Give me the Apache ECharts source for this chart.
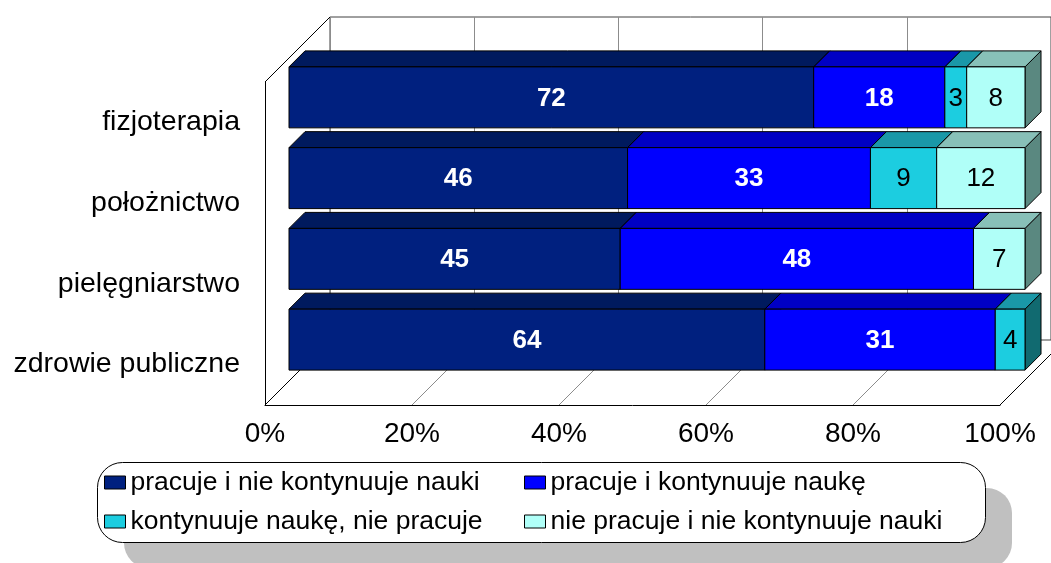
<!DOCTYPE html>
<html>
<head>
<meta charset="utf-8">
<script src="https://cdn.jsdelivr.net/npm/echarts@6/dist/echarts.min.js"></script>
<style>
  html, body { margin: 0; padding: 0; background: #fff; }
  #chart { width: 1051px; height: 563px; }
</style>
</head>
<body>
<div id="chart"></div>
<script>
var categories = ['fizjoterapia', 'położnictwo', 'pielęgniarstwo', 'zdrowie publiczne'];
var seriesNames = [
  'pracuje i nie kontynuuje nauki',
  'pracuje i kontynuuje naukę',
  'kontynuuje naukę, nie pracuje',
  'nie pracuje i nie kontynuuje nauki'
];
var workNoStudy = [72, 46, 45, 64];
var workStudy = [18, 33, 48, 31];
var studyNoWork = [3, 9, 0, 4];
var neither = [8, 12, 7, 0];
var xTicks = [0, 20, 40, 60, 80, 100];

(function() {
  var FONT = '"Liberation Sans", Arial, sans-serif';
  var WALL_DEPTH = 65;   // front plane -> back wall
  var BAR_DEPTH = 16;    // thickness of the bars
  var faceColors = ['#00207f', '#0000ff', '#1ccde0', '#b0fff8'];
  var topColors = ['#001a5e', '#0000c4', '#1a98a8', '#88c0b8'];
  var sideColors = ['#00123f', '#00008a', '#116a70', '#5a8880'];
  var labelColors = ['#fff', '#fff', '#000', '#000'];
  var labelWeights = ['bold', 'bold', 'normal', 'normal'];

  var allSeries = [workNoStudy, workStudy, studyNoWork, neither];

  // 100% stacking: start/end of every segment as a share of the row total
  var totals = categories.map(function(c, i) {
    return allSeries.reduce(function(s, arr) { return s + arr[i]; }, 0);
  });
  var stacked = allSeries.map(function() { return []; });
  categories.forEach(function(c, i) {
    var cum = 0;
    allSeries.forEach(function(arr, k) {
      var v = arr[i];
      var start = cum / totals[i] * 100;
      cum += v;
      var end = cum / totals[i] * 100;
      if (v > 0) stacked[k].push([start, end, i, v]);
    });
  });

  function makeBarRenderer(k) {
    return function(params, api) {
      var cat = api.value(2);
      var p0 = api.coord([api.value(0), cat]);
      var p1 = api.coord([api.value(1), cat]);
      var h = api.size([0, 1])[1] * 0.755;
      var x0 = p0[0], x1 = p1[0];
      var yT = p0[1] - h / 2, yB = p0[1] + h / 2;
      var d = BAR_DEPTH;
      return {
        type: 'group',
        children: [
          {
            type: 'polygon',
            shape: { points: [[x1, yT], [x1 + d, yT - d], [x1 + d, yB - d], [x1, yB]] },
            style: { fill: sideColors[k], stroke: '#000', lineWidth: 1 }
          },
          {
            type: 'polygon',
            shape: { points: [[x0, yT], [x1, yT], [x1 + d, yT - d], [x0 + d, yT - d]] },
            style: { fill: topColors[k], stroke: '#000', lineWidth: 1 }
          },
          {
            type: 'rect',
            shape: { x: x0, y: yT, width: x1 - x0, height: yB - yT },
            style: { fill: faceColors[k], stroke: '#000', lineWidth: 1 }
          },
          {
            type: 'text',
            style: {
              text: String(api.value(3)),
              x: (x0 + x1) / 2,
              y: (yT + yB) / 2 + 1,
              align: 'center',
              verticalAlign: 'middle',
              fill: labelColors[k],
              fontSize: 26,
              fontWeight: labelWeights[k],
              fontFamily: FONT
            }
          }
        ]
      };
    };
  }

  function renderFloor(params, api) {
    var v = api.value(0);
    var x = api.coord([v, 0])[0];
    var cs = params.coordSys;
    var yb = cs.y + cs.height;
    var edge = (v === xTicks[0] || v === xTicks[xTicks.length - 1]);
    var kids = [{
      type: 'line',
      shape: { x1: x, y1: yb, x2: x + WALL_DEPTH, y2: yb - WALL_DEPTH },
      style: { stroke: edge ? '#000' : '#8c8c8c', lineWidth: 1 }
    }];
    if (v === xTicks[0]) {
      kids.push({
        type: 'line',
        shape: { x1: x, y1: cs.y, x2: x + WALL_DEPTH, y2: cs.y - WALL_DEPTH },
        style: { stroke: '#000', lineWidth: 1 }
      });
    }
    return { type: 'group', children: kids };
  }

  var series = [{
    type: 'custom',
    name: 'floor',
    xAxisIndex: 0,
    yAxisIndex: 0,
    z: 1,
    silent: true,
    renderItem: renderFloor,
    encode: { x: 0, y: 1 },
    data: xTicks.map(function(v) { return [v, 0]; })
  }];

  seriesNames.forEach(function(name, k) {
    series.push({
      type: 'custom',
      name: name,
      xAxisIndex: 2,
      yAxisIndex: 2,
      z: 3,
      itemStyle: { color: faceColors[k], borderColor: '#000', borderWidth: 1 },
      renderItem: makeBarRenderer(k),
      encode: { x: [0, 1], y: 2 },
      data: stacked[k]
    });
  });

  var legendPos = [[104, 469], [524, 469], [104, 508], [524, 508]];
  var legends = seriesNames.map(function(name, k) {
    return {
      data: [name],
      left: legendPos[k][0],
      top: legendPos[k][1],
      padding: 0,
      icon: 'rect',
      itemWidth: 21,
      itemHeight: 13,
      z: 10,
      itemStyle: { borderColor: '#000', borderWidth: 1 },
      textStyle: { fontSize: 26.5, color: '#000', fontFamily: FONT }
    };
  });

  var chart = echarts.init(document.getElementById('chart'));
  chart.setOption({
    animation: false,
    backgroundColor: '#fff',
    grid: [
      { left: 265, top: 82, width: 735, height: 323 },
      { left: 330, top: 17, width: 735, height: 323, show: true, borderColor: '#404040', borderWidth: 1, z: 0 },
      { left: 289, top: 57, width: 736, height: 323 }
    ],
    xAxis: [
      {
        gridIndex: 0, type: 'value', min: 0, max: 100, interval: 20,
        axisLine: { show: true, lineStyle: { color: '#000', width: 1 } },
        axisTick: { show: false },
        splitLine: { show: false },
        axisLabel: { formatter: '{value}%', color: '#000', fontSize: 28, fontFamily: FONT, margin: 15 }
      },
      {
        gridIndex: 1, type: 'value', min: 0, max: 100, interval: 20,
        axisLine: { show: false }, axisTick: { show: false }, axisLabel: { show: false },
        splitLine: { show: true, lineStyle: { color: '#8c8c8c', width: 1 } }
      },
      {
        gridIndex: 2, type: 'value', min: 0, max: 100, show: false
      }
    ],
    yAxis: [
      {
        gridIndex: 0, type: 'category', data: categories, inverse: true,
        axisLine: { show: true, lineStyle: { color: '#000', width: 1 } },
        axisTick: { show: false },
        axisLabel: { color: '#000', fontSize: 28.5, fontFamily: FONT, margin: 25 }
      },
      { gridIndex: 1, type: 'category', data: categories, inverse: true, show: false },
      { gridIndex: 2, type: 'category', data: categories, inverse: true, show: false }
    ],
    legend: legends,
    graphic: [
      {
        type: 'rect', left: 124, top: 488, z: 4, silent: true,
        shape: { width: 888, height: 80, r: 25 },
        style: { fill: '#c0c0c0' }
      },
      {
        type: 'rect', left: 97, top: 462, z: 5, silent: true,
        shape: { width: 888, height: 80, r: 25 },
        style: { fill: '#fff', stroke: '#000', lineWidth: 1 }
      }
    ],
    series: series
  });
  window.addEventListener('resize', function() { chart.resize(); });
})();
</script>
</body>
</html>
